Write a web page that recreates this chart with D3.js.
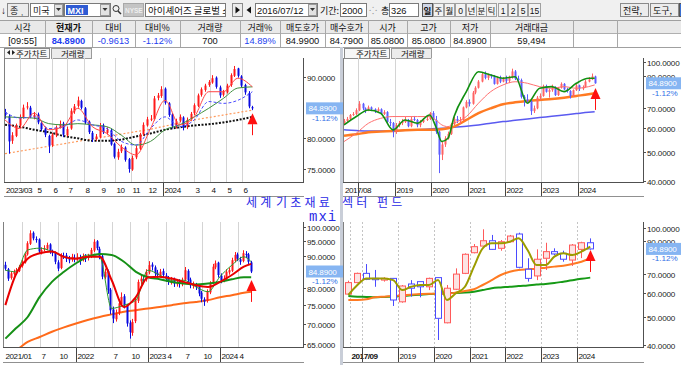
<!DOCTYPE html>
<html><head><meta charset="utf-8">
<script src="https://cdn.jsdelivr.net/npm/d3@7/dist/d3.min.js"></script>
<style>body{margin:0;background:#fff;}svg{display:block;font-family:"Liberation Sans","Noto Sans CJK KR",sans-serif;}</style>
</head><body><svg id="c" width="681" height="365"></svg>
<script>
// ===================== DATA =====================
const hdrLabels = ["시각","현재가","대비","대비%","거래량","거래%","매도호가","매수호가","시가","고가","저가","거래대금","",""];
const hdrValues = ["[09:55]","84.8900","-0.9613","-1.12%","700","14.89%","84.9900","84.7900","85.0800","85.0800","84.8900","59,494","",""];
const hdrBlue = [false,true,true,true,false,true,false,false,false,false,false,false,false,false];
const colEdges = [0,45,92,135,180,240,280,325,368,407,450,490,573,617,681];
const periodBtns = ["일","주","월","0","년","분","틱","1","2","5","15"];
const lastPrice = 84.89, lastChange = "-1.12%";
const titleWords = ["세계","기초재료","섹터","펀드"];
const subTitle = "mxi";

// ---- top-left: weekly candles 2023/03 - 2024/06
const tlStart = "2023-03-03";
const tlOpen = [84.3,83.6,79.6,80.4,82.1,83.4,85.1,85.0,83.5,83.9,
 82.5,81.6,80.4,78.9,80.5,81.9,82.4,80.5,81.6,84.4,
 85.3,86.1,84.9,82.7,80.9,79.9,80.2,82.1,80.9,81.3,
 79.1,76.9,77.9,78.5,76.6,74.9,76.9,78.3,80.7,82.1,
 83.2,83.1,86.6,86.9,88.1,85.7,83.9,81.9,82.9,83.4,
 81.9,83.1,84.1,85.3,87.1,87.9,88.7,89.1,89.9,88.3,
 87.1,87.5,88.7,90.2,91.4,90.1,88.7,87.4,85.08];
const tlHigh = [84.8,83.9,81.0,82.4,83.9,85.5,85.9,85.3,84.3,84.2,
 82.8,81.9,80.6,80.9,82.1,82.9,82.7,81.9,84.9,85.6,
 86.8,86.3,85.1,82.9,81.2,80.7,82.5,82.4,81.8,81.6,
 79.3,78.3,79.0,78.7,76.8,77.2,78.8,80.9,82.6,83.5,
 83.8,86.9,87.4,88.5,88.3,85.9,84.1,83.2,83.9,83.6,
 83.4,84.3,85.7,87.3,88.3,88.9,89.5,90.3,90.1,88.6,
 87.9,88.9,90.6,91.8,91.5,90.3,88.9,87.7,85.3];
const tlLow = [83.2,77.5,79.1,80.2,81.8,83.2,84.7,83.3,83.1,82.3,
 81.2,80.2,77.6,78.6,80.2,81.6,80.2,80.3,81.4,84.0,
 85.0,84.7,82.3,80.7,79.4,79.6,80.0,80.7,80.6,78.8,
 76.7,76.5,77.6,76.2,74.4,74.7,76.6,78.1,80.4,81.9,
 82.8,82.9,86.2,86.6,85.5,83.5,81.6,81.6,82.6,81.3,
 81.5,82.9,83.8,85.1,86.8,87.6,88.4,88.9,88.1,86.6,
 86.8,87.3,88.4,90.0,89.9,88.3,87.1,84.9,84.6];
const tlClose = [83.8,79.5,80.5,82.0,83.5,85.0,85.2,83.6,83.8,82.6,
 81.5,80.6,78.8,80.6,81.8,82.3,80.6,81.5,84.5,85.2,
 86.2,85.0,82.6,81.0,79.8,80.3,82.0,81.0,81.4,79.0,
 77.0,77.8,78.6,76.5,75.0,76.8,78.4,80.6,82.2,83.1,
 83.2,86.5,87.0,88.0,85.8,83.8,82.0,82.8,83.5,81.8,
 83.0,84.0,85.4,87.0,88.0,88.6,89.2,89.8,88.4,87.0,
 87.6,88.6,90.3,91.3,90.2,88.6,87.5,85.2,84.89];
// moving averages sampled every 4th week
const tlMaRed   = [83.0,81.6,84.1,81.4,81.9,84.9,81.9,80.8,78.6,77.3,81.6,86.2,82.2,83.5,87.6,87.6,89.8,88.4];
const tlMaGreen = [83.5,83.4,83.3,82.4,82.2,82.4,82.2,81.9,80.5,78.9,79.5,81.4,82.2,83.5,84.9,86.5,88.2,88.4];
const tlMaBlue  = [84.3,83.3,83.5,81.6,81.9,83.0,82.2,81.6,79.5,78.9,81.6,83.5,81.9,83.0,86.0,85.7,86.2,87.6];
const tlMaOrange= [77.5,77.9,78.3,78.7,79.1,79.5,79.9,80.3,80.7,81.1,81.5,82.0,82.5,83.0,83.4,83.8,84.2,84.6];
const tlMaBlack = [82.2,81.9,81.4,81.0,80.4,80.0,79.6,79.6,79.8,80.3,80.8,81.4,81.8,82.1,82.3,82.6,83.0,83.5];
const tlTicks  = ["2023-03","2023-04","2023-05","2023-06","2023-07","2023-08","2023-09","2023-10","2023-11","2023-12","2024-01","2024-02","2024-03","2024-04","2024-05","2024-06"];
const tlLabels = ["2023/03","","5","6","7","8","9","10","11","12","2024","","3","4","5","6"];
const tlYTicks = [75,80,90];

// ---- top-right: monthly candles 2017/08 - 2024/06
const trStart = "2017-08-15";
const trOpen = [62.0,63.5,64.5,66.5,67.0,
 69.0,72.5,70.0,69.0,70.5,69.5,68.5,69.5,67.0,68.0,63.0,62.5,
 58.5,61.5,62.5,63.0,64.0,61.0,64.5,64.0,61.5,63.0,64.0,64.5,
 67.5,64.0,58.5,49.0,53.0,55.5,57.5,62.0,64.5,63.5,64.0,70.5,
 73.5,72.5,79.0,82.0,86.0,91.0,88.5,90.5,89.5,84.5,88.5,86.0,
 88.0,86.5,89.0,93.0,88.0,87.0,76.5,75.0,74.0,68.5,70.0,76.0,
 77.0,83.0,79.5,80.5,82.5,77.5,82.0,84.5,81.0,80.0,77.0,80.5,
 83.5,81.5,82.5,86.0,87.5,89.5];
const trHigh = [64.5,65.5,67.0,68.0,70.0,
 74.0,73.0,70.5,71.5,71.0,70.0,70.5,70.0,69.0,68.5,64.5,63.0,
 62.5,63.5,64.5,65.5,64.5,65.5,66.0,64.5,64.0,65.0,65.5,68.0,
 68.5,66.0,59.0,54.0,56.5,58.5,62.5,65.5,66.0,65.5,71.0,74.5,
 75.0,80.0,83.0,87.0,92.0,93.0,91.5,91.0,90.5,89.5,90.0,89.0,
 90.0,90.0,95.0,94.0,90.0,88.0,77.5,78.0,75.0,71.5,77.0,78.5,
 84.0,84.0,81.5,84.0,83.0,82.5,85.5,85.0,82.0,80.5,81.0,84.5,
 84.0,83.5,87.0,89.0,91.5,90.0];
const trLow = [61.5,63.0,64.0,66.0,66.5,
 68.5,69.0,67.5,68.5,68.5,67.5,68.0,66.5,66.5,62.5,61.0,56.0,
 57.5,60.5,61.5,62.5,60.5,60.5,63.5,60.5,60.5,62.5,63.5,64.0,
 63.5,57.5,42.5,47.0,52.0,55.0,57.0,61.5,62.5,62.0,63.5,70.0,
 71.0,72.0,78.0,81.5,85.5,87.5,87.0,88.0,84.0,84.0,85.0,85.5,
 84.5,85.0,88.0,87.0,85.5,75.5,71.0,73.0,66.5,67.5,69.5,74.5,
 76.5,79.0,76.0,79.5,77.0,77.0,81.5,80.5,79.0,75.5,76.5,80.0,
 80.0,80.5,82.0,85.5,87.0,84.6];
const trClose = [63.5,64.5,66.5,67.0,69.0,
 72.5,70.0,69.0,70.5,69.5,68.5,69.5,67.0,68.0,63.0,62.5,58.5,
 61.5,62.5,63.0,64.0,61.0,64.5,64.0,61.5,63.0,64.0,64.5,67.5,
 64.0,58.5,49.0,53.0,55.5,57.5,62.0,64.5,63.5,64.0,70.5,73.5,
 72.5,79.0,82.0,86.0,91.0,88.5,90.5,89.5,84.5,88.5,86.0,88.0,
 86.5,89.0,93.0,88.0,87.0,76.5,75.0,74.0,68.5,70.0,76.0,77.0,
 83.0,79.5,80.5,82.5,77.5,82.0,84.5,81.0,80.0,77.0,80.5,83.5,
 81.5,82.5,86.0,87.5,89.5,84.89];
const trMaDates = ["2017-08-15","2017-12-15","2018-04-15","2018-08-15","2018-12-15","2019-04-15","2019-08-15","2019-12-15","2020-02-15","2020-04-15","2020-06-15","2020-08-15","2020-12-15","2021-04-15","2021-08-15","2021-12-15","2022-04-15","2022-08-15","2022-12-15","2023-04-15","2023-08-15","2023-12-15","2024-04-15","2024-06-15"];
const trMaGreen = [61.6,65.7,69.1,67.4,59.3,64.0,62.4,66.5,60.8,54.2,55.6,65.7,79.6,92.8,90.5,88.2,89.3,72.8,81.7,82.7,79.6,84.9,88.2,88.2];
const trMaRed   = [54.2,57.8,62.4,64.8,65.7,65.7,65.7,65.7,64.0,61.6,60.8,62.4,65.7,72.8,79.6,83.8,85.9,84.9,82.7,81.7,82.7,81.7,82.7,83.8];
const trMaOrange= [56.7,57.3,58.2,58.5,58.8,59.1,59.3,59.4,59.4,59.6,60.0,60.8,64.0,67.4,70.0,72.2,73.3,74.1,74.7,75.2,76.0,77.0,78.0,78.6];
const trMaBlue  = [59.3,59.0,58.8,58.8,58.8,59.1,59.4,59.7,59.9,60.0,60.2,60.5,61.0,61.6,62.4,63.2,63.8,64.5,65.2,65.8,66.5,67.2,67.9,68.2];
const trTicks  = ["2017-08","2018-01","2019-01","2020-01","2021-01","2022-01","2023-01","2024-01"];
const trLabels = ["2017/08","","2019","2020","2021","2022","2023","2024"];
const trYTicks = [40,50,60,70,90,100];

// ---- bottom-left: two-week candles 2021/01 - 2024/06
const blStart = "2021-01-08";
const blOpen = [87.0,85.6,82.9,84.1,84.9,85.1,86.6,87.8,90.4,94.0,
 97.9,95.7,95.5,91.2,92.1,92.3,93.8,91.2,91.0,87.8,
 86.0,90.0,90.1,88.8,88.7,89.4,89.2,89.4,88.7,89.4,
 89.2,89.8,91.7,94.9,92.3,89.8,83.1,85.0,79.4,73.8,
 71.2,72.9,75.3,77.5,74.8,70.3,67.7,70.7,76.2,81.9,
 82.5,82.4,84.6,87.1,86.2,84.5,83.6,85.0,83.6,82.9,
 81.5,82.4,81.0,81.9,81.0,82.4,85.1,82.4,80.5,80.7,
 80.4,78.5,76.6,76.2,78.6,81.4,86.2,87.7,83.6,82.4,
 82.5,84.6,85.1,88.3,90.4,88.8,88.2,90.6,90.4,87.8];
const blHigh = [88.0,86.0,84.9,85.5,86.0,87.0,88.6,90.8,94.9,98.8,
 98.4,96.6,95.9,92.8,93.5,94.4,94.2,92.0,91.4,88.5,
 90.8,91.0,90.9,89.9,90.6,90.4,90.8,90.3,90.7,90.5,
 90.6,92.6,95.6,95.3,93.0,90.4,85.8,85.5,79.9,74.6,
 73.8,76.4,78.6,78.1,75.3,70.9,71.3,77.2,82.4,84.0,
 83.6,85.6,88.2,87.8,86.8,85.4,85.7,85.8,84.4,83.5,
 83.2,83.0,82.6,82.5,83.0,86.3,85.6,83.0,81.8,81.4,
 80.9,79.0,77.2,79.5,81.9,87.3,88.4,88.0,84.3,83.7,
 85.6,86.1,89.3,91.2,91.0,89.6,91.8,91.5,90.9,88.3];
const blLow = [85.2,82.0,82.4,83.6,84.3,84.7,86.1,87.4,90.0,93.6,
 95.2,94.4,90.8,90.4,91.4,91.8,90.6,89.8,87.2,85.0,
 85.6,88.9,87.9,87.5,88.0,87.8,88.3,87.0,88.1,87.9,
 88.4,89.2,91.2,91.8,88.8,82.5,82.5,78.2,72.5,70.2,
 70.6,72.3,74.6,74.1,69.3,66.3,67.0,70.2,75.6,81.0,
 81.0,81.8,84.0,85.2,83.4,82.9,83.0,82.8,81.7,80.8,
 80.9,80.2,80.3,80.0,80.4,82.0,81.5,79.8,79.7,79.3,
 77.5,75.8,74.8,75.7,78.1,81.0,85.6,83.0,81.3,81.6,
 82.0,83.9,84.7,87.8,88.2,87.0,87.8,89.2,87.1,84.4];
const blClose = [85.8,82.7,84.3,84.8,85.3,86.4,88.0,90.2,94.2,97.7,
 95.9,95.3,91.4,91.9,92.5,93.6,91.4,90.8,88.0,85.8,
 90.2,89.9,89.0,88.5,89.6,89.0,89.6,88.5,89.6,89.0,
 89.6,91.9,94.7,92.5,89.6,83.3,84.8,79.2,73.6,71.4,
 72.7,75.5,77.3,75.0,70.1,67.9,70.5,76.4,81.7,82.7,
 82.2,84.8,86.9,86.4,84.3,83.8,84.8,83.8,82.7,81.7,
 82.2,81.2,81.7,81.2,82.2,85.3,82.2,80.7,80.9,80.2,
 78.3,76.8,76.0,78.8,81.2,86.4,87.5,83.8,82.2,82.7,
 84.8,85.3,88.5,90.2,89.0,88.0,90.8,90.2,88.0,84.89];
const blMaDates = ["2021-01-08","2021-03-01","2021-05-01","2021-07-01","2021-09-01","2021-11-01","2022-01-01","2022-03-01","2022-05-01","2022-07-01","2022-09-01","2022-11-01","2023-01-01","2023-03-01","2023-05-01","2023-07-01","2023-09-01","2023-11-01","2024-01-01","2024-03-01","2024-05-01","2024-06-07"];
const blMaShort = [85.3,84.8,91.9,92.5,91.4,89.6,89.0,90.2,89.6,74.1,75.0,76.4,85.3,83.8,82.2,82.2,80.2,78.8,83.3,86.9,89.6,88.0];
const blMaRed   = [75.0,83.8,89.0,90.8,91.4,89.6,89.0,89.6,89.6,82.2,74.5,77.3,83.1,83.3,82.7,81.7,80.7,80.2,81.7,83.8,86.4,87.3];
const blMaGreen = [66.3,68.8,71.8,77.3,81.7,84.8,87.5,89.6,90.5,90.2,88.0,84.8,83.1,82.5,81.7,81.2,80.9,81.2,81.7,82.5,83.1,83.1];
const blMaOrange= [62.7,63.5,65.5,66.7,68.0,69.1,70.1,71.0,71.8,72.5,73.2,73.6,74.1,74.5,75.0,75.5,75.9,76.4,77.2,77.8,78.5,78.8];
const blTicks  = ["2021-01","2021-04","2021-07","2021-10","2022-01","2022-04","2022-07","2022-10","2023-01","2023-04","2023-07","2023-10","2024-01","2024-04"];
const blLabels = ["2021/01","","7","10","2022","","7","10","2023","4","7","10","2024","4"];
const blYTicks = [65,70,75,80,90,95,100];

// ---- bottom-right: quarterly candles 2017/09 - 2024/06
const brStart = "2017-08-15";
const brOpen  = [59.6,65.2,70.1,67.4,66.5,67.4,56.1,64.5,65.7,63.1,67.8,47.6,61.9,70.1,82.4,86.8,90.5,85.3,89.8,95.4,72.4,68.7,78.9,83.1,82.0,77.8,84.6,89.1];
const brHigh  = [66.2,70.5,75.4,72.0,68.0,67.6,64.0,66.5,65.7,67.8,68.0,64.0,72.9,82.0,88.2,99.0,94.7,91.0,94.7,96.4,78.9,84.6,89.1,85.3,83.7,88.2,89.8,92.2];
const brLow   = [59.2,64.9,66.5,63.1,65.7,54.3,55.7,58.4,58.1,61.5,41.6,47.4,61.5,69.7,82.0,86.4,84.2,83.7,89.4,72.9,65.7,66.5,72.0,80.9,76.8,74.3,79.0,84.4];
const brClose = [65.2,70.1,66.9,66.7,67.4,56.9,63.5,62.4,63.1,67.4,49.3,62.4,69.7,81.4,86.4,90.5,84.6,89.8,93.9,73.5,67.4,78.3,83.1,81.6,78.3,87.5,89.1,84.89];
const brMaOlive  = [59.2,64.0,67.4,67.4,67.4,66.5,61.5,63.1,64.0,64.0,66.5,56.9,60.0,63.1,73.9,85.3,88.7,88.7,89.8,92.2,84.2,74.8,74.8,79.9,82.0,80.9,83.1,86.4];
const brMaOrange = [56.9,56.9,57.2,58.1,58.4,58.7,59.0,59.3,59.6,59.8,59.8,59.8,60.3,61.1,61.9,64.0,66.5,69.2,71.0,72.0,72.4,72.7,73.3,73.9,74.4,75.4,76.8,78.9];
const brMaGreen  = [58.7,58.4,58.3,58.1,58.3,58.4,58.7,59.0,59.3,59.6,59.8,60.0,60.1,60.3,60.7,61.5,62.4,62.8,63.1,63.5,63.8,64.2,64.5,65.0,65.7,66.4,67.2,67.8];
const brTicks  = ["2017-09","2018-01","2019-01","2020-01","2021-01","2022-01","2023-01","2024-01"];
const brLabels = ["2017/09","","2019","2020","2021","2022","2023","2024"];
const brYTicks = [40,50,60,70,90,100];

// arrow tips (price level of the red signal arrow)
const arrowTips = {tl:84.1, tr:81.9, bl:82.3, br:84.2};

// ===================== DRAW =====================
const svg = d3.select("#c");
const P = d3.timeParse("%Y-%m-%d"), PM = d3.timeParse("%Y-%m");
const KR = "Noto Sans CJK KR";
function T(x,y,s,o={}){const t=svg.append("text").attr("x",x).attr("y",y).text(s).attr("font-size",o.fs||9).attr("fill",o.c||"#111");
 if(o.a)t.attr("text-anchor",o.a); if(o.b)t.attr("font-weight","bold"); if(o.ff)t.attr("font-family",o.ff); if(o.ls!=null)t.attr("letter-spacing",o.ls); return t;}
function Rc(x,y,w,h,f,s){return svg.append("rect").attr("x",x).attr("y",y).attr("width",w).attr("height",h).attr("fill",f||"none").attr("stroke",s||"none");}
function Ln(x1,y1,x2,y2,s,w){return svg.append("line").attr("x1",x1).attr("y1",y1).attr("x2",x2).attr("y2",y2).attr("stroke",s).attr("stroke-width",w||1);}
function tri(pts,f){return svg.append("path").attr("d","M"+pts.map(p=>p.join(",")).join("L")+"Z").attr("fill",f);}

svg.append("rect").attr("width",681).attr("height",365).attr("fill","#fff");

// ---- toolbar row
Rc(0,0,681,20,"#f0f0f0");
T(1,14,"↓",{fs:10});
Rc(7.5,3.5,21,13,"#ececec","#8a8a8a"); T(10,14,"종",{fs:9,ff:KR}); T(21,15,",",{fs:8});
Rc(30.5,3.5,33,13,"#fff","#7a7a7a"); T(33,14,"미국",{fs:9,ff:KR}); Rc(54.5,4.5,8,11,"#e2e2e2","#9a9a9a"); tri([[56,8],[61,8],[58.5,11]],"#333");
Rc(64.5,3.5,46,13,"#fff","#7a7a7a"); Rc(66,5,22,10,"#2f5bd3"); T(67.5,13.5,"MXI",{fs:9,c:"#fff",b:1}); Rc(100.5,4.5,9,11,"#e2e2e2","#9a9a9a"); tri([[102.5,8],[107.5,8],[105,11]],"#333");
svg.append("circle").attr("cx",116).attr("cy",8.5).attr("r",3).attr("fill","none").attr("stroke","#333"); Ln(118,11,121,14,"#333",1.5);
Rc(123.5,3.5,20,13,"#c4c4c4","#a8a8a8"); T(125,12.5,"NYSE",{fs:6.5,c:"#eee",b:1});
svg.append("clipPath").attr("id","nmClip").append("rect").attr("x",146).attr("y",3).attr("width",79).attr("height",14);
Rc(145.5,3.5,80,13,"#fff","#7a7a7a");
T(148,14,"아이셰어즈 글로벌 소재",{fs:9.5,ff:KR}).attr("clip-path","url(#nmClip)");
Rc(232.5,3.5,10,13,"#ececec","#8a8a8a"); tri([[235.5,6.5],[235.5,13.5],[240,10]],"#111"); tri([[251,6.5],[251,13.5],[246.5,10]],"#111");
Rc(255.5,3.5,62,13,"#fff","#7a7a7a"); T(257,14,"2016/07/12",{fs:9.3}); Rc(308.5,4.5,8,11,"#e2e2e2","#9a9a9a"); tri([[310,8],[315,8],[312.5,11]],"#333");
T(320,14,"기간:",{fs:9,ff:KR});
Rc(340.5,3.5,26,13,"#fff","#7a7a7a"); T(342,14,"2000",{fs:9.3});
T(369,14,"⁘",{fs:10,c:"#999"});
T(381,14,"총",{fs:9,ff:KR}); Rc(389.5,3.5,29,13,"#fff","#7a7a7a"); T(391,14,"326",{fs:9.3});
const btnX=[422,433,444,455,466,476,486,498,508,518,528], btnW=[10,10,10,10,10,10,10,9,9,9,12];
periodBtns.forEach((b,i)=>{Rc(btnX[i]+0.5,3.5,btnW[i],13,i===0?"#cfd6e6":"#f2f2f2",i===0?"#555":"#a0a0a0");
 T(btnX[i]+btnW[i]/2+0.5,14,b,{fs:8.5,a:"middle",ff:/[0-9]/.test(b)?null:KR,b:i===0});});
Rc(620.5,3.5,28,13,"#ececec","#8a8a8a"); T(623,14,"전략,",{fs:9,ff:KR});
Rc(650.5,3.5,28,13,"#ececec","#8a8a8a"); T(653,14,"도구,",{fs:9,ff:KR});
Rc(679.5,3.5,4,13,"#3a6fd0","#555");

// ---- quote header rows
Rc(0,20,681,13,"#e9e9e9"); Rc(0,33,681,14,"#fff");
Ln(0,20.5,681,20.5,"#a0a0a0"); Ln(0,33.5,681,33.5,"#b0b0b0"); Ln(0,47.5,681,47.5,"#a0a0a0");
colEdges.forEach((e,i)=>{ if(i>0 && i<colEdges.length-1) Ln(e+0.5,20,e+0.5,47,"#a8a8a8"); });
hdrLabels.forEach((s,i)=>{const cx=(colEdges[i]+colEdges[i+1])/2;
 T(cx,30.5,s,{fs:9,a:"middle",ff:KR,b:i===1});
 const v=hdrValues[i]; if(v) T(cx,44,v,{fs:9.3,a:"middle",c:hdrBlue[i]?"#1f3ff0":"#111",b:i===1});});

// ---- tab strips
function tabs(x0){
 Rc(x0+0.5,48.5,45,10,"#f7f7f7","#8a8a8a"); T(x0+12,56.5,"주가차트",{fs:8.5,ff:KR});
 Rc(x0+47.5,48.5,40,10,"#ececec","#9a9a9a"); T(x0+57,56.5,"거래량",{fs:8.5,ff:KR});
}
tabs(4); tabs(344);
tri([[7,52.5],[10,50],[10,55]],"#222"); tri([[15,52.5],[12,50],[12,55]],"#222");
// separator between halves
Rc(340,47,3,318,"#c9ced8");

// ---- panels
const AX = 8.1; // axis label font size
function panel(p){
 const {L,R,top,B,SB,x,y,id}=p;
 svg.append("clipPath").attr("id",id).append("rect").attr("x",L+1).attr("y",top).attr("width",R-L-1).attr("height",B-top);
 p.ticks.forEach((t,i)=>{const xx=Math.round(x(t))+0.5;
  if(xx>L+2) Ln(xx,top,xx,B,p.grid,1).attr("stroke-dasharray",p.gridDash||null);
  if(t.getMonth()===0 && xx>L+2) Ln(xx,B,xx,SB,"#444",1);
  const lab=p.labels[i]; if(lab) T(Math.max(L+2,xx+1),SB-3.5,lab,{fs:AX,c:"#111",b:p.boldFirst&&i===0,ls:-0.45});
 });
 Ln(L+0.5,top,L+0.5,B,"#808080");
 Ln(L,B+0.5,R+1,B+0.5,"#505050");
 Ln(R+0.5,top,R+0.5,B+1,"#505050");
 Ln(L,SB+0.5,R+1,SB+0.5,"#909090");
 const g=svg.append("g").attr("clip-path",`url(#${id})`);
 (p.linesUnder||[]).forEach(l=>drawLine(g,x,y,l));
 drawCandles(g,x,y,p.c);
 (p.lines||[]).forEach(l=>drawLine(g,x,y,l));
 // y ticks
 const yp=y(lastPrice);
 p.yt.forEach(v=>{const yy=Math.round(y(v))+0.5; Ln(R,yy,R+3,yy,"#505050");
  T(R+4,yy+3,d3.format(".4f")(v),{fs:AX,c:"#222",ls:-0.15});});
 // current price box
 Rc(R+3,yp-6,38,12,"#86b5f2"); T(R+5.5,yp+3,d3.format(".4f")(lastPrice),{fs:AX,c:"#fff",ls:-0.15});
 T(R+9,yp+12.5,lastChange,{fs:AX,c:"#2f6fe6"});
 // arrow
 const ax=Math.round(x(p.c.dates[p.c.dates.length-1]))+0.5, at=y(p.arrow);
 tri([[ax,at],[ax-5,at+11],[ax+5,at+11]],"#ff1010");
 Ln(ax,at+11,ax,at+22,"#ff1010",1);
}
function drawCandles(g,x,y,c){
 c.dates.forEach((d,i)=>{
  const o=c.O[i],cl=c.C[i],up=cl>=o,col=up?c.up:c.down;
  const cx=Math.round(x(d));
  const yt=y(Math.max(o,cl)),yb=y(Math.min(o,cl)),yh=y(c.H[i]),yl=y(c.L[i]);
  if(c.hollow){
   g.append("line").attr("x1",cx+0.5).attr("x2",cx+0.5).attr("y1",yh).attr("y2",yt).attr("stroke",col);
   g.append("line").attr("x1",cx+0.5).attr("x2",cx+0.5).attr("y1",yb).attr("y2",yl).attr("stroke",col);
   g.append("rect").attr("x",cx-2.5).attr("y",yt).attr("width",6).attr("height",Math.max(1,yb-yt))
    .attr("fill",up?c.upFill:c.downFill).attr("stroke",col);
  } else {
   g.append("line").attr("x1",cx+0.5).attr("x2",cx+0.5).attr("y1",yh).attr("y2",yl).attr("stroke",col);
   g.append("rect").attr("x",cx-c.w/2+0.5).attr("y",yt).attr("width",c.w).attr("height",Math.max(1,yb-yt)).attr("fill",col);
  }
 });
}
function drawLine(g,x,y,l){
 g.append("path").datum(l.vals.map((v,i)=>[l.dates[i],v]))
  .attr("d",d3.line().x(d=>x(d[0])).y(d=>y(d[1])).curve(d3.curveMonotoneX))
  .attr("fill","none").attr("stroke",l.color).attr("stroke-width",l.w||1)
  .attr("stroke-dasharray",l.dash||null);
}

// ---- TL
const tlDates = tlClose.map((_,i)=>d3.timeDay.offset(P(tlStart),7*i));
const tlMaDates = tlMaRed.map((_,k)=>tlDates[Math.min(4*k,tlDates.length-1)]);
const xTL = d3.scaleTime().domain([P("2023-03-01"),P("2024-01-01")]).range([4,163]);
const yTL = d3.scaleLinear().domain([72.88,93.10]).range([182,58]);
panel({id:"cTL",L:4,R:303,top:58,B:182,SB:196,x:xTL,y:yTL,grid:"#d4d4d4",
 ticks:tlTicks.map(PM),labels:tlLabels,yt:tlYTicks,arrow:arrowTips.tl,
 c:{dates:tlDates,O:tlOpen,H:tlHigh,L:tlLow,C:tlClose,up:"#ff1a1a",down:"#0a0ae0",w:2},
 linesUnder:[
  {dates:tlMaDates,vals:tlMaOrange,color:"#ff9a5c",w:1.2,dash:"2,2"},
  {dates:tlMaDates,vals:tlMaBlack,color:"#111",w:2,dash:"2,1.5"}],
 lines:[
  {dates:tlMaDates,vals:tlMaGreen,color:"#3f8f3f",w:1},
  {dates:tlMaDates,vals:tlMaBlue,color:"#4a4aff",w:1,dash:"3,2"},
  {dates:tlMaDates,vals:tlMaRed,color:"#ff4545",w:1}]});

// ---- TR
const trDates = trClose.map((_,i)=>d3.timeMonth.offset(P(trStart),i));
const xTR = d3.scaleTime().domain([P("2018-01-01"),P("2024-01-01")]).range([358,578]);
const yTR = d3.scaleLog().domain([39.69,103.13]).range([182,58]);
panel({id:"cTR",L:343,R:643,top:58,B:182,SB:196,x:xTR,y:yTR,grid:"#d4d4d4",
 ticks:trTicks.map(PM),labels:trLabels,yt:trYTicks,arrow:arrowTips.tr,
 c:{dates:trDates,O:trOpen,H:trHigh,L:trLow,C:trClose,up:"#ff6464",down:"#5c5cff",w:2},
 linesUnder:[
  {dates:trMaDates.map(P),vals:trMaBlue,color:"#5a5af0",w:1.5},
  {dates:trMaDates.map(P),vals:trMaOrange,color:"#ff7a22",w:2.5}],
 lines:[
  {dates:trMaDates.map(P),vals:trMaRed,color:"#ff7070",w:1},
  {dates:trMaDates.map(P),vals:trMaGreen,color:"#119011",w:1.6}]});

// ---- BL
const blDates = blClose.map((_,i)=>d3.timeDay.offset(P(blStart),14*i));
const xBL = d3.scaleTime().domain([P("2021-01-01"),P("2024-01-01")]).range([4,220]);
const yBL = d3.scaleLog().domain([64.29,101.86]).range([347,222]);
panel({id:"cBL",L:3,R:303,top:222,B:347,SB:362,x:xBL,y:yBL,grid:"#d4d4d4",
 ticks:blTicks.map(PM),labels:blLabels,yt:blYTicks,arrow:arrowTips.bl,
 c:{dates:blDates,O:blOpen,H:blHigh,L:blLow,C:blClose,up:"#ff1a1a",down:"#0a0ae0",w:2},
 linesUnder:[{dates:blMaDates.map(P),vals:blMaOrange,color:"#ff6a1a",w:2}],
 lines:[
  {dates:blMaDates.map(P),vals:blMaShort,color:"#2a9a2a",w:1},
  {dates:blMaDates.map(P),vals:blMaGreen,color:"#169016",w:2},
  {dates:blMaDates.map(P),vals:blMaRed,color:"#e80000",w:2}]});

// ---- BR
const brDates = brClose.map((_,i)=>d3.timeMonth.offset(P(brStart),3*i));
const xBR = d3.scaleTime().domain([P("2018-01-01"),P("2024-01-01")]).range([362,577]);
const yBR = d3.scaleLog().domain([39.38,104.81]).range([347,222]);
panel({id:"cBR",L:343,R:643,top:222,B:347,SB:362,x:xBR,y:yBR,grid:"#c4c4c4",gridDash:"2,2",boldFirst:true,
 ticks:brTicks.map(PM),labels:brLabels,yt:brYTicks,arrow:arrowTips.br,
 c:{dates:brDates,O:brOpen,H:brHigh,L:brLow,C:brClose,up:"#ff5a5a",down:"#4a4aff",upFill:"#fde3e3",downFill:"#ffffff",hollow:true},
 linesUnder:[
  {dates:brDates,vals:brMaGreen,color:"#169a16",w:2},
  {dates:brDates,vals:brMaOrange,color:"#ff7a22",w:2}],
 lines:[{dates:brDates,vals:brMaOlive,color:"#9c9c00",w:2}]});

// ---- title
const tX=[246,276,342,377];
titleWords.forEach((w,i)=>T(tX[i],207,w,{fs:12,c:"#2a2ae6",ff:KR,ls:3.2}));
T(309,221,subTitle,{fs:14,c:"#2a2ae6",ff:"Liberation Mono",ls:1});
</script></body></html>
